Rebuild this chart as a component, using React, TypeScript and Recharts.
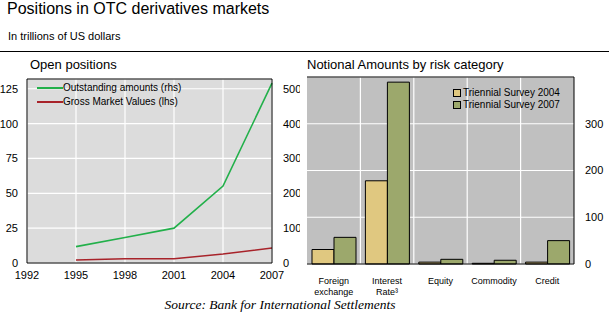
import {
  LineChart,
  Line,
  BarChart,
  Bar,
  XAxis,
  YAxis,
  CartesianGrid,
  ReferenceLine,
} from "recharts";

const FONT = "'Liberation Sans', Arial, sans-serif";

// Open positions (left panel)
const years = [1995, 1998, 2001, 2004, 2007];
const outstandingAmounts = [47, 73, 100, 221, 516]; // rhs
const grossMarketValues = [2.2, 3.0, 3.0, 6.4, 10.8]; // lhs
const yearTicks = [1992, 1995, 1998, 2001, 2004, 2007];
const lhsTicks = [0, 25, 50, 75, 100, 125];
const rhsTicks = [0, 100, 200, 300, 400, 500];

// Notional amounts by risk category (right panel)
const categories = ["Foreign\nexchange", "Interest\nRate³", "Equity", "Commodity", "Credit"];
const survey2004 = [31, 178, 4, 1.5, 4];
const survey2007 = [57, 389, 10, 8, 50];
const barTicks = [0, 100, 200, 300];

const lineData = years.map((y, i) => ({
  year: y,
  outstanding: outstandingAmounts[i],
  gross: grossMarketValues[i],
}));

const barData = categories.map((c, i) => ({
  name: c,
  s2004: survey2004[i],
  s2007: survey2007[i],
}));

const tickStyle = { fontSize: 11, fill: "#000", fontFamily: FONT };

function LineLegend() {
  const items = [
    { label: "Outstanding amounts (rhs)", color: "#22b04a" },
    { label: "Gross Market Values (lhs)", color: "#a8232a" },
  ];
  return (
    <div style={{ fontFamily: FONT, fontSize: 10, lineHeight: "14px", color: "#000" }}>
      {items.map(it => (
        <div key={it.label} style={{ display: "flex", alignItems: "center", whiteSpace: "nowrap" }}>
          <span style={{ display: "inline-block", width: 26, height: 2, background: it.color }} />
          <span>{it.label}</span>
        </div>
      ))}
    </div>
  );
}

function BarLegend() {
  const items = [
    { label: "Triennial Survey 2004", color: "#e0c880" },
    { label: "Triennial Survey 2007", color: "#9ca86c" },
  ];
  return (
    <div style={{ fontFamily: FONT, fontSize: 10, lineHeight: "12px", color: "#000" }}>
      {items.map(it => (
        <div key={it.label} style={{ display: "flex", alignItems: "center", whiteSpace: "nowrap" }}>
          <span
            style={{
              display: "inline-block",
              width: 6,
              height: 6,
              background: it.color,
              border: "1px solid #000",
              marginRight: 2,
            }}
          />
          <span>{it.label}</span>
        </div>
      ))}
    </div>
  );
}

function CategoryTick(props: any) {
  const { x, y, payload } = props;
  const lines = String(payload.value).split("\n");
  return (
    <g transform={`translate(${x},${y})`}>
      {lines.map((l: string, i: number) => (
        <text
          key={i}
          x={0}
          y={12 + i * 11}
          textAnchor="middle"
          fontSize={9}
          fontFamily={FONT}
          fill="#000"
        >
          {l}
        </text>
      ))}
    </g>
  );
}

function OpenPositions() {
  return (
    <LineChart
      width={300}
      height={220}
      data={lineData}
      margin={{ top: 9, right: 0, left: 0, bottom: 0 }}
    >
      <CartesianGrid stroke="#ffffff" strokeWidth={1.2} fill="#dcdcdc" yAxisId="left" />
      <XAxis
        dataKey="year"
        type="number"
        domain={[1992, 2007]}
        ticks={yearTicks}
        tick={tickStyle}
        tickLine={false}
        axisLine={{ stroke: "#000" }}
        height={27}
        tickMargin={2}
        interval={0}
      />
      <YAxis
        yAxisId="left"
        domain={[0, 132]}
        ticks={lhsTicks}
        tick={tickStyle}
        tickLine={false}
        axisLine={{ stroke: "#000" }}
        width={27}
        tickMargin={3}
        interval={0}
      />
      <YAxis
        yAxisId="right"
        orientation="right"
        domain={[0, 528]}
        ticks={rhsTicks}
        tick={{ ...tickStyle, textAnchor: "start" }}
        tickLine={false}
        axisLine={{ stroke: "#000" }}
        width={28}
        tickMargin={5}
        interval={0}
      />
      <ReferenceLine yAxisId="left" y={132} stroke="#000" />
      <Line
        yAxisId="right"
        dataKey="outstanding"
        stroke="#22b04a"
        strokeWidth={1.6}
        dot={false}
        isAnimationActive={false}
      />
      <Line
        yAxisId="left"
        dataKey="gross"
        stroke="#a8232a"
        strokeWidth={1.6}
        dot={false}
        isAnimationActive={false}
      />
    </LineChart>
  );
}

function NotionalAmounts() {
  return (
    <BarChart
      width={309}
      height={232}
      data={barData}
      margin={{ top: 7, right: 0, left: 7, bottom: 0 }}
      barCategoryGap={5}
      barGap={0}
    >
      <CartesianGrid
        stroke="#ffffff"
        strokeWidth={1.2}
        fill="#c0c0c0"
        verticalCoordinatesGenerator={({ offset }: any) =>
          categories.slice(1).map((_, i) => offset.left + ((i + 1) * offset.width) / categories.length)
        }
      />
      <XAxis
        dataKey="name"
        tick={<CategoryTick />}
        tickLine={false}
        axisLine={{ stroke: "#000" }}
        height={38}
        interval={0}
      />
      <YAxis
        orientation="right"
        domain={[0, 400]}
        ticks={barTicks}
        tick={{ ...tickStyle, textAnchor: "start" }}
        tickLine={false}
        axisLine={{ stroke: "#000" }}
        width={35}
        tickMargin={5}
        interval={0}
      />
      <YAxis yAxisId="l" orientation="left" width={0} tick={false} axisLine={{ stroke: "#000" }} domain={[0, 400]} />
      <ReferenceLine y={400} stroke="#000" />
      <Bar dataKey="s2004" fill="#e0c880" stroke="#000" strokeWidth={1} isAnimationActive={false} />
      <Bar dataKey="s2007" fill="#9ca86c" stroke="#000" strokeWidth={1} isAnimationActive={false} />
    </BarChart>
  );
}

export default function App() {
  return (
    <div
      style={{
        position: "absolute",
        left: 0,
        top: 0,
        width: 609,
        height: 321,
        background: "#fff",
        fontFamily: FONT,
        color: "#000",
      }}
    >
      <div style={{ position: "absolute", left: 7, top: 0, fontSize: 16, whiteSpace: "nowrap" }}>
        Positions in OTC derivatives markets
      </div>
      <div style={{ position: "absolute", left: 8, top: 30, fontSize: 11, whiteSpace: "nowrap" }}>
        In trillions of US dollars
      </div>
      <div style={{ position: "absolute", left: 0, top: 51, width: 609, height: 1, background: "#000" }} />
      <div style={{ position: "absolute", left: 30, top: 57, fontSize: 13, whiteSpace: "nowrap" }}>
        Open positions
      </div>
      <div style={{ position: "absolute", left: 307, top: 57, fontSize: 13, whiteSpace: "nowrap" }}>
        Notional Amounts by risk category
      </div>
      <div style={{ position: "absolute", left: 0, top: 70 }}>
        <OpenPositions />
      </div>
      <div style={{ position: "absolute", left: 37, top: 81 }}>
        <LineLegend />
      </div>
      <div style={{ position: "absolute", left: 300, top: 70 }}>
        <NotionalAmounts />
      </div>
      <div style={{ position: "absolute", left: 453, top: 87 }}>
        <BarLegend />
      </div>
      <div
        style={{
          position: "absolute",
          left: 0,
          top: 297,
          width: 560,
          textAlign: "center",
          fontFamily: "'Liberation Serif', 'DejaVu Serif', serif",
          fontStyle: "italic",
          fontSize: 13.5,
        }}
      >
        Source: Bank for International Settlements
      </div>
    </div>
  );
}
